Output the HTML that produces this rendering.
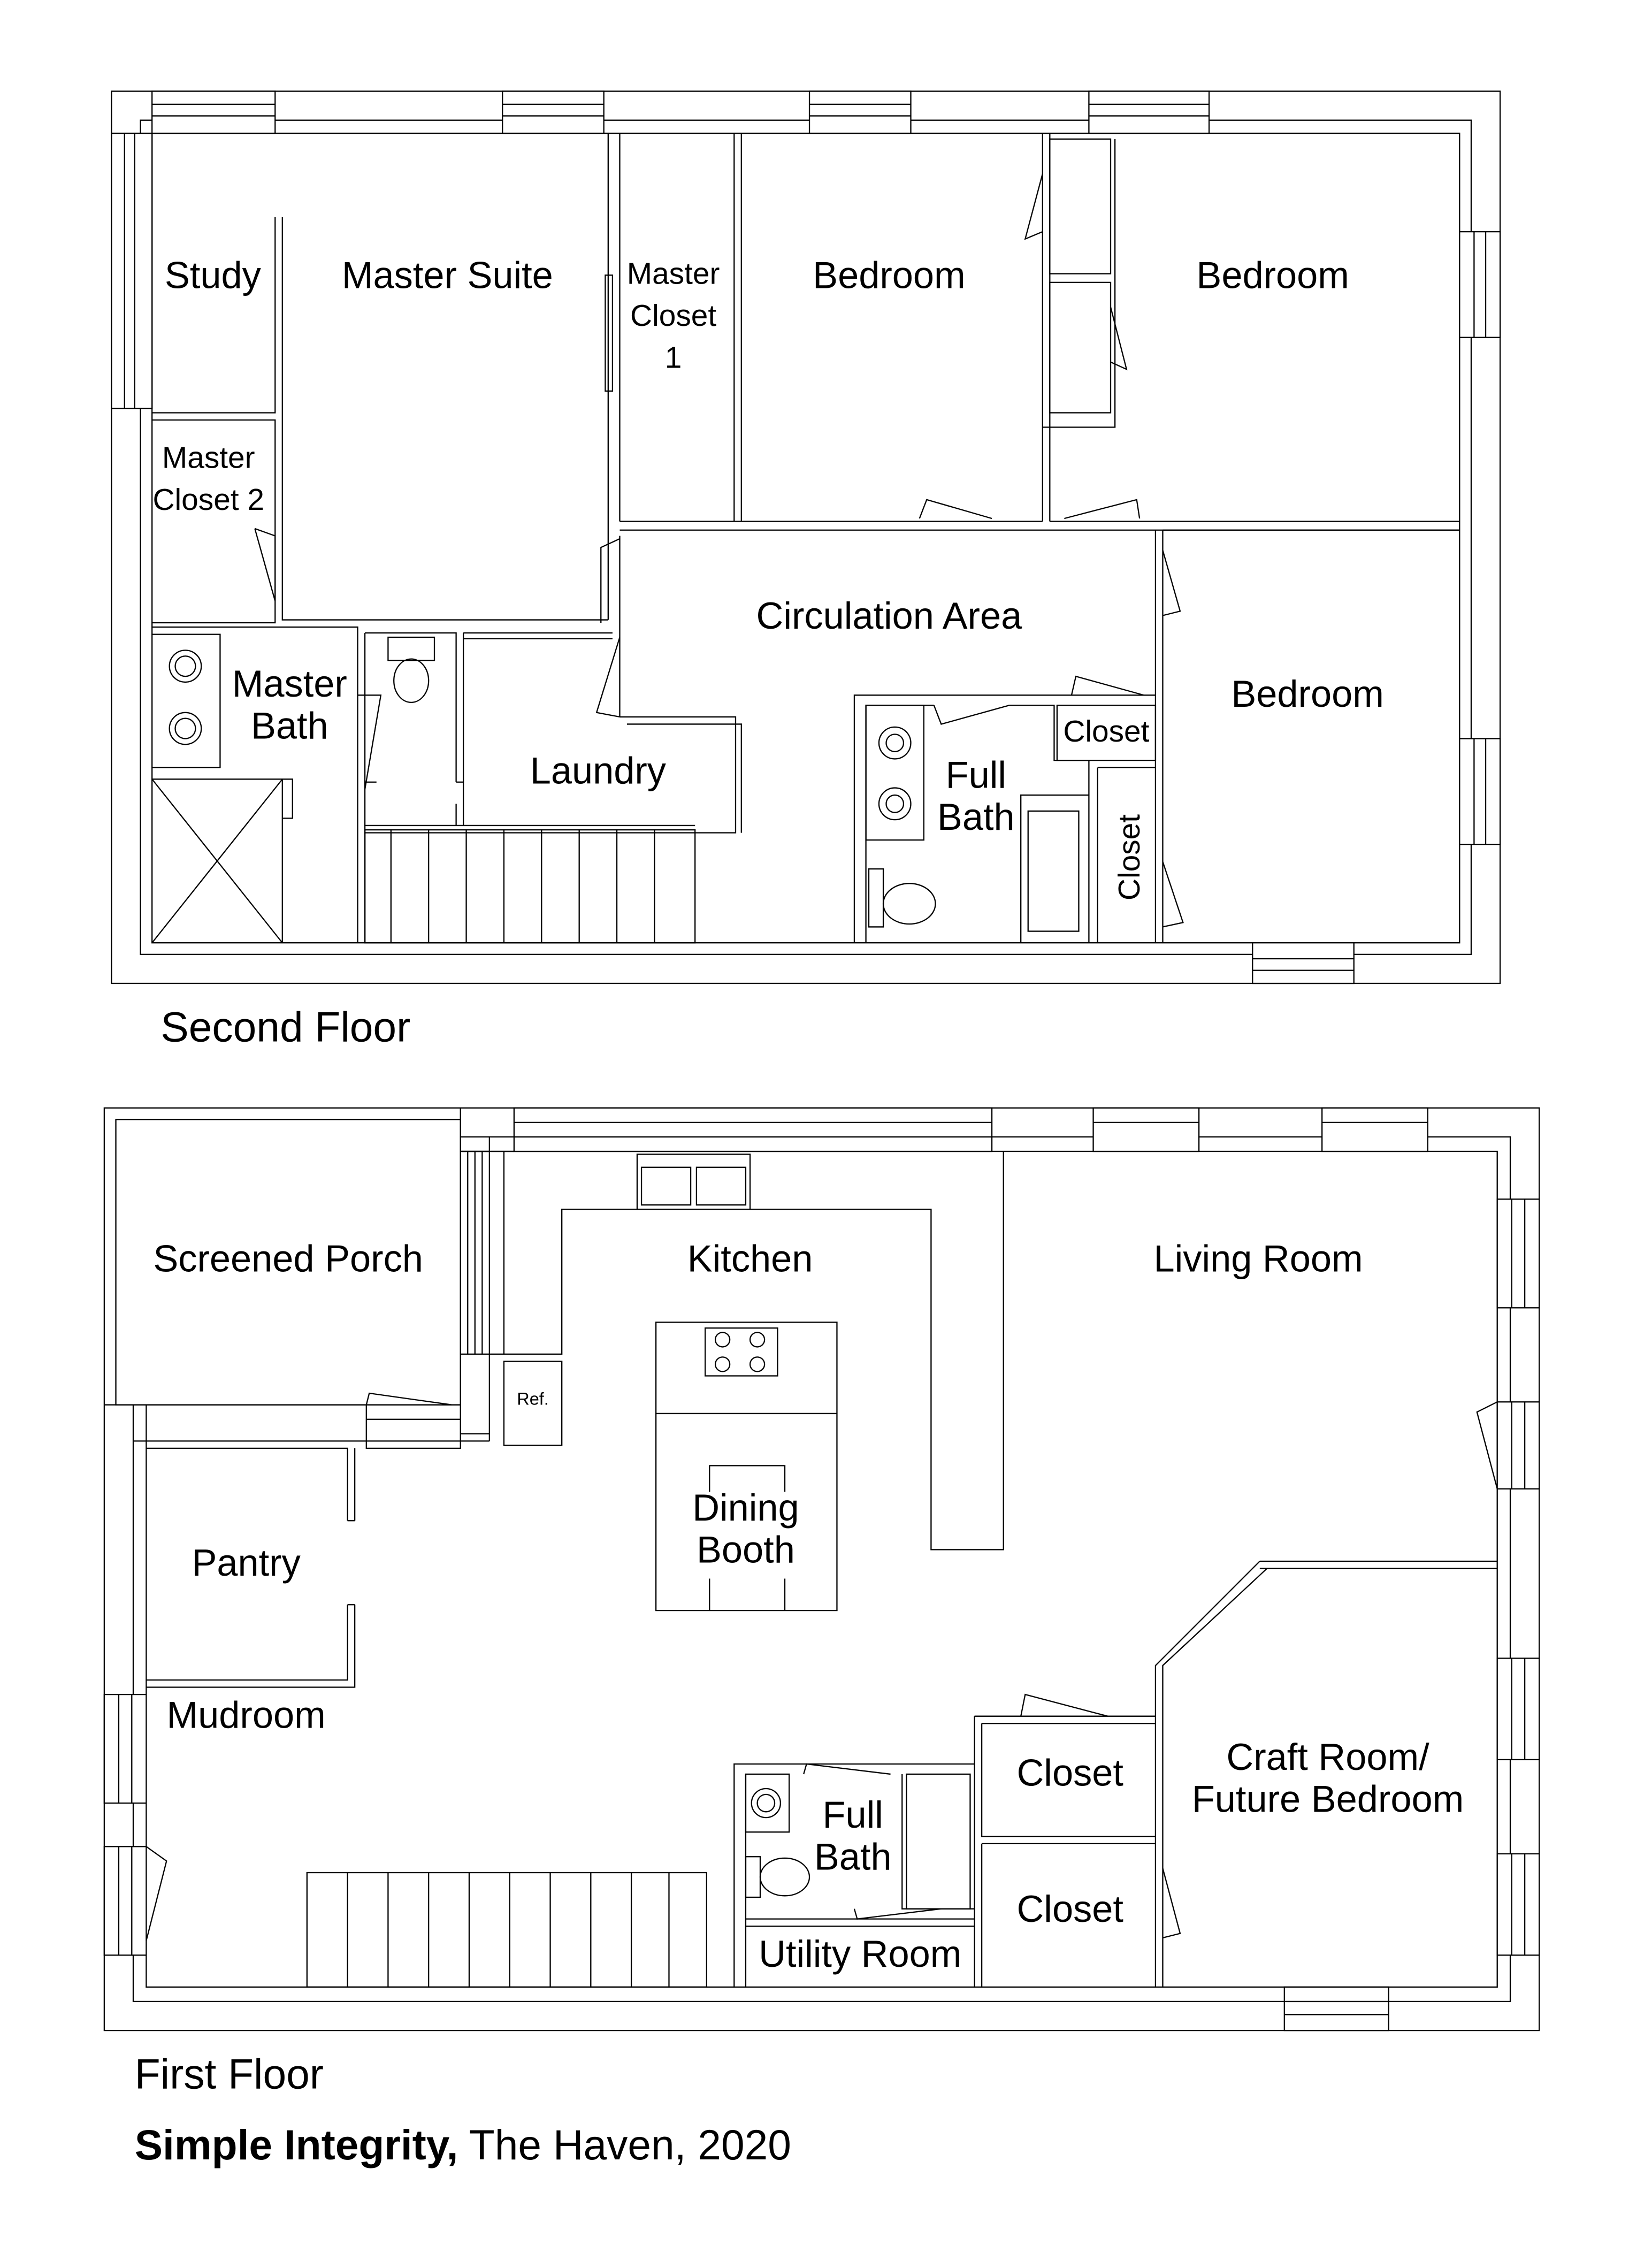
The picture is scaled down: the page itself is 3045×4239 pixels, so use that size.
<!DOCTYPE html>
<html><head><meta charset="utf-8"><style>
html,body{margin:0;padding:0;background:#fff;}
svg{display:block}
text{font-family:"Liberation Sans",sans-serif;fill:#000;}
</style></head><body>
<svg width="3045" height="4239" viewBox="0 0 1125 1566" preserveAspectRatio="none" xmlns="http://www.w3.org/2000/svg">
<g fill="none" stroke="#000" stroke-width="0.85">
<!-- SECOND FLOOR -->
<rect x="77" y="63" width="959" height="616"/>
<rect x="97" y="83" width="919" height="576"/>
<rect x="105" y="92" width="903" height="559"/>
<g fill="#fff">
<rect x="105" y="63" width="85" height="29"/><rect x="347" y="63" width="70" height="29"/>
<rect x="559" y="63" width="70" height="29"/><rect x="752" y="63" width="83" height="29"/>
<rect x="77" y="92" width="28" height="190"/>
<rect x="1008" y="160" width="28" height="73"/><rect x="1008" y="510" width="28" height="73"/>
<rect x="865" y="651" width="70" height="28"/>
</g>
<path d="M105 72H190M105 80H190M347 72H417M347 80H417M559 72H629M559 80H629M752 72H835M752 80H835M86 92V282M93 92V282M1018 160V233M1026 160V233M1018 510V583M1026 510V583M865 662H935M865 670H935"/>
<path d="M190 150V285H105M195 150V428H420M105 290H190V365M190 415V430H105M428 92V360M420 92V428M190 365V415"/>
<path d="M176 365L190 370V415L176 365"/>
<rect x="418" y="190" width="5" height="80"/>
<path d="M507 92V360M512 92V360M720 92V360M725 92V360M428 360H720M428 366H798M725 360H1008M725 366H1008"/>
<rect x="725" y="96" width="42" height="93"/><rect x="725" y="195" width="42" height="90"/>
<path d="M720 295H770V96M770 195V295"/>
<path d="M720 120L708 165L720 160M767 212L778 255L767 250"/>
<path d="M635 358L640 345L685 358M735 358L785 345L787 358"/>
<path d="M798 366V651M803 366V651M803 366H1008"/>
<path d="M803 380L815 422L803 425M803 595L817 637L803 640"/>
<path d="M428 372L415 378V430M428 440L412 492L428 495"/>
<path d="M105 433H247V651M105 438H152V530H105M247 437V651M252 437V651"/>
<circle cx="128" cy="460" r="11"/><circle cx="128" cy="460" r="7"/>
<circle cx="128" cy="503" r="11"/><circle cx="128" cy="503" r="7"/>
<path d="M105 538H195V651M195 538H202V565H195M105 538L195 651M195 538L105 651M247 480L263 480L252 545"/>
<path d="M252 437H315V540M320 437V570M315 555V570M252 570H480M252 575H480M320 437H423M320 441H423"/>
<rect x="268" y="440" width="32" height="16"/><ellipse cx="284" cy="470" rx="12" ry="15"/>
<path d="M252 540H260M315 540H320"/>
<path d="M428 495H508V575H480M433 500H512V575"/>
<path d="M428 370V495"/>
<rect x="252" y="573" width="228" height="78"/>
<path d="M270 573V651M296 573V651M322 573V651M348 573V651M374 573V651M400 573V651M426 573V651M452 573V651"/>
<path d="M590 651V480H798M598 651V487H645M697 487H728V525H752V549H705V651M752 549V651M758 530H798M758 530V651"/>
<rect x="730" y="487" width="68" height="38"/>
<rect x="598" y="487" width="40" height="93"/>
<circle cx="618" cy="513" r="11"/><circle cx="618" cy="513" r="6"/>
<circle cx="618" cy="555" r="11"/><circle cx="618" cy="555" r="6"/>
<rect x="710" y="560" width="35" height="83"/>
<path d="M600 600H610V640H600Z"/><ellipse cx="628" cy="624" rx="18" ry="14"/>
<path d="M645 487L650 500L697 487M740 480L743 467L790 480"/>

<!-- FIRST FLOOR -->
<rect x="72" y="765" width="991" height="637"/>
<rect x="92" y="785" width="951" height="597"/>
<rect x="101" y="795" width="933" height="577"/>
<g fill="#fff">
<rect x="80" y="773" width="238" height="197"/>
<rect x="355" y="765" width="330" height="30"/><rect x="755" y="765" width="73" height="30"/>
<rect x="913" y="765" width="73" height="30"/>
<rect x="1034" y="828" width="29" height="75"/><rect x="1034" y="968" width="29" height="60"/>
<rect x="1034" y="1145" width="29" height="70"/><rect x="1034" y="1280" width="29" height="70"/>
<rect x="72" y="1170" width="29" height="75"/><rect x="72" y="1275" width="29" height="75"/>
<rect x="887" y="1372" width="72" height="30"/>
</g>
<path d="M318 765V935M338 785V995M318 795H338M355 775H685M355 785H685M755 775H828M913 775H986M1044 828V903M1053 828V903M1044 968V1028M1053 968V1028M1044 1145V1215M1053 1145V1215M1044 1280V1350M1053 1280V1350M82 1170V1245M91 1170V1245M82 1275V1350M91 1275V1350M887 1382H959M887 1391H959"/>
<path d="M72 970H253V1000H318V935H348M253 970H318M318 935V1000M338 995H92M318 990H338M253 980H318"/>
<path d="M323 795V935M328 795V935M333 795V935M318 785V795H355"/>
<path d="M253 970L255 962L312 970"/>
<path d="M348 795V935H388V835H643V1070H693V795"/>
<rect x="440" y="797" width="78" height="38"/>
<rect x="443" y="806" width="34" height="26"/><rect x="481" y="806" width="34" height="26"/>
<rect x="348" y="940" width="40" height="58"/>
<rect x="453" y="913" width="125" height="199"/>
<path d="M453 976H578M490 1112V1090M542 1112V1090M490 1030V1012H542V1030"/>
<rect x="487" y="917" width="50" height="33"/>
<circle cx="499" cy="925" r="5"/><circle cx="523" cy="925" r="5"/><circle cx="499" cy="942" r="5"/><circle cx="523" cy="942" r="5"/>
<path d="M101 1000H240V1050M245 1000V1050M245 1108V1165H101M240 1108V1160H101M240 1050H245M240 1108H245"/>
<path d="M870 1078H1034M870 1083H1034M870 1078L798 1150V1372M875 1083L803 1150V1372"/>
<path d="M1034 968L1020 975L1034 1028"/>
<path d="M673 1185H798M673 1185V1372M678 1190H798M678 1190V1268H798M678 1273H798M678 1273V1372"/>
<path d="M705 1185L708 1170L765 1185M803 1290L815 1335L803 1338"/>
<path d="M507 1372V1218H673M515 1372V1325H673M515 1330H673M515 1225V1325M623 1225V1318H673"/>
<rect x="626" y="1225" width="44" height="93"/>
<rect x="515" y="1225" width="30" height="40"/><circle cx="529" cy="1245" r="10"/><circle cx="529" cy="1245" r="6"/>
<path d="M515 1282H525V1310H515Z"/><ellipse cx="542" cy="1296" rx="17" ry="13"/>
<path d="M555 1225L557 1218L615 1225M590 1318L592 1325L650 1318"/>
<rect x="212" y="1293" width="276" height="79"/>
<path d="M240 1293V1372M268 1293V1372M296 1293V1372M324 1293V1372M352 1293V1372M380 1293V1372M408 1293V1372M436 1293V1372M462 1293V1372"/>
<path d="M101 1275L115 1285L101 1340"/>
</g>
<g font-size="26" text-anchor="middle">
<text x="147" y="199">Study</text>
<text x="309" y="199">Master Suite</text>
<text x="465" y="196" font-size="21">Master</text>
<text x="465" y="225" font-size="21">Closet</text>
<text x="465" y="254" font-size="21">1</text>
<text x="614" y="199">Bedroom</text>
<text x="879" y="199">Bedroom</text>
<text x="144" y="323" font-size="21">Master</text>
<text x="144" y="352" font-size="21">Closet 2</text>
<text x="614" y="434">Circulation Area</text>
<text x="200" y="481">Master</text>
<text x="200" y="510">Bath</text>
<text x="903" y="488">Bedroom</text>
<text x="413" y="541">Laundry</text>
<text x="764" y="512" font-size="21">Closet</text>
<text x="674" y="544">Full</text>
<text x="674" y="573">Bath</text>
<text x="0" y="0" font-size="21" transform="translate(787 592) rotate(-90)">Closet</text>
<text x="199" y="878">Screened Porch</text>
<text x="518" y="878">Kitchen</text>
<text x="869" y="878">Living Room</text>
<text x="368" y="970" font-size="12">Ref.</text>
<text x="515" y="1050">Dining</text>
<text x="515" y="1079">Booth</text>
<text x="170" y="1088">Pantry</text>
<text x="170" y="1193">Mudroom</text>
<text x="917" y="1222">Craft Room/</text>
<text x="917" y="1251">Future Bedroom</text>
<text x="739" y="1233">Closet</text>
<text x="589" y="1262">Full</text>
<text x="589" y="1291">Bath</text>
<text x="739" y="1327">Closet</text>
<text x="594" y="1358">Utility Room</text>
</g>
<g font-size="29">
<text x="111" y="719">Second Floor</text>
<text x="93" y="1442">First Floor</text>
<text x="93" y="1491"><tspan font-weight="bold">Simple Integrity,</tspan> The Haven, 2020</text>
</g>
</svg>
</body></html>
